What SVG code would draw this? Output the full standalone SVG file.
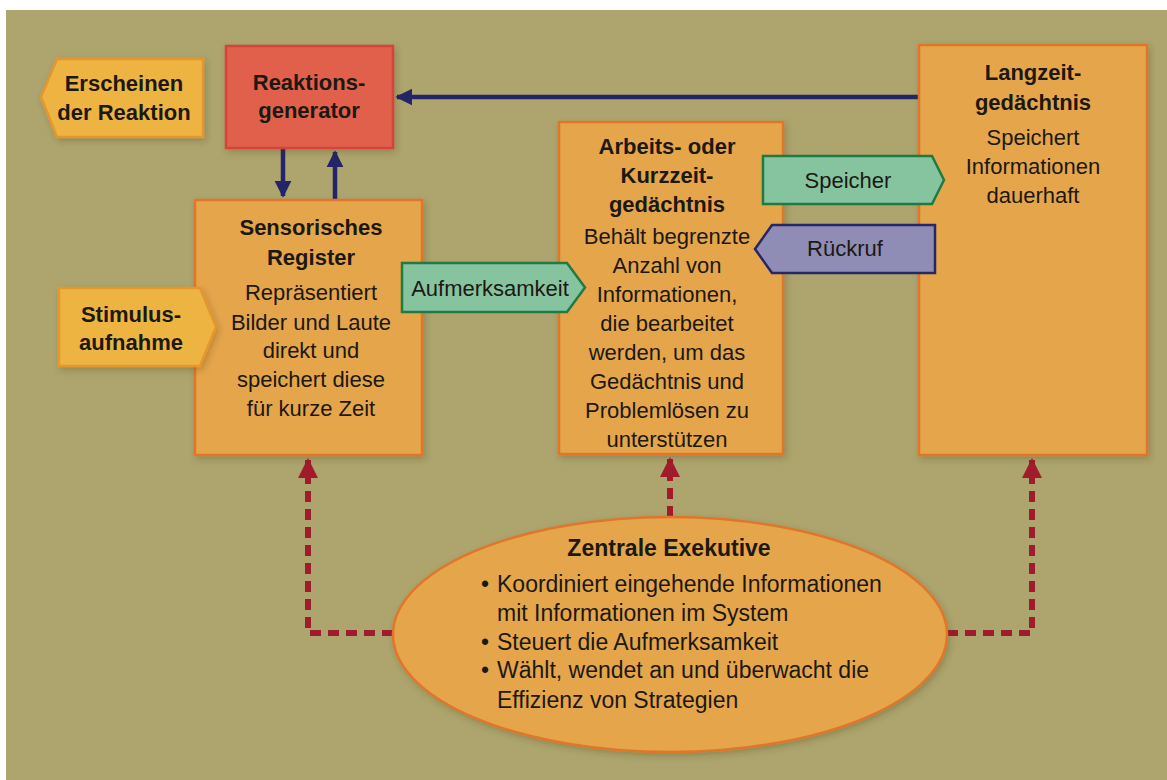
<svg xmlns="http://www.w3.org/2000/svg" width="1167" height="780" viewBox="0 0 1167 780">
<defs>
<style>
text{font-family:"Liberation Sans",Arial,Helvetica,sans-serif;fill:#1c1812;font-size:22px;}
.c{text-anchor:middle;}
.b{font-weight:bold;}
.box{fill:#e5a54b;stroke:#e0762c;stroke-width:2.5;filter:url(#sh);}
.tag{fill:#eeb443;stroke:#e5962e;stroke-width:2.5;filter:url(#sh);}
.gen{fill:#e0604c;stroke:#d8423a;stroke-width:2.5;filter:url(#sh);}
.grn{fill:#86c4a0;stroke:#1f7a44;stroke-width:2.5;}
.pur{fill:#8f8cb6;stroke:#262766;stroke-width:2.5;}
.navy{stroke:#242568;stroke-width:4.5;fill:none;}
.dash{stroke:#a11c2b;stroke-width:6;fill:none;stroke-dasharray:11 7;}
</style>
<filter id="sh" x="-10%" y="-10%" width="130%" height="130%">
<feDropShadow dx="2" dy="3" stdDeviation="3" flood-color="#3a3010" flood-opacity="0.25"/>
</filter>
<marker id="mNavy" viewBox="0 0 10 10" refX="9" refY="5" markerWidth="3.8" markerHeight="3.8" orient="auto" markerUnits="strokeWidth">
<path d="M0,0 L10,5 L0,10 z" fill="#242568"/>
</marker>
<marker id="mRed" viewBox="0 0 10 10" refX="9" refY="5" markerWidth="3.4" markerHeight="3.4" orient="auto" markerUnits="strokeWidth">
<path d="M0,0 L10,5 L0,10 z" fill="#a11c2b"/>
</marker>
</defs>
<rect x="0" y="0" width="1167" height="780" fill="#ffffff"/>
<rect x="6" y="10" width="1161" height="770" fill="#ada56d"/>

<g id="connectors">
<line class="navy" x1="919" y1="97" x2="397" y2="97" marker-end="url(#mNavy)"/>
<line class="navy" x1="283" y1="149" x2="283" y2="196" marker-end="url(#mNavy)"/>
<line class="navy" x1="335" y1="199" x2="335" y2="152" marker-end="url(#mNavy)"/>
<path class="dash" d="M393,633 H308 V460" marker-end="url(#mRed)"/>
<path class="dash" d="M670,517 V459" marker-end="url(#mRed)"/>
<path class="dash" d="M947,633 H1032 V460" marker-end="url(#mRed)"/>
</g>

<g id="reaktionsgenerator">
<rect class="gen" x="226" y="46" width="167" height="102"/>
<text class="c b" x="309" y="90">Reaktions-</text>
<text class="c b" x="309" y="118">generator</text>
</g>

<g id="erscheinen">
<polygon class="tag" points="41,97 57,59 203,59 203,137 57,137"/>
<text class="c b" x="124" y="91">Erscheinen</text>
<text class="c b" x="124" y="120">der Reaktion</text>
</g>

<g id="sensorisches-register">
<rect class="box" x="195" y="200" width="227" height="255"/>
<text class="c b" x="311" y="235">Sensorisches</text>
<text class="c b" x="311" y="265">Register</text>
<text class="c" x="311" y="300">Repräsentiert</text>
<text class="c" x="311" y="330">Bilder und Laute</text>
<text class="c" x="311" y="358">direkt und</text>
<text class="c" x="311" y="387">speichert diese</text>
<text class="c" x="311" y="416">für kurze Zeit</text>
</g>

<g id="arbeitsgedaechtnis">
<rect class="box" x="559" y="122" width="224" height="332"/>
<text class="c b" x="667" y="154">Arbeits- oder</text>
<text class="c b" x="667" y="183">Kurzzeit-</text>
<text class="c b" x="667" y="212">gedächtnis</text>
<text class="c" x="667" y="244">Behält begrenzte</text>
<text class="c" x="667" y="273">Anzahl von</text>
<text class="c" x="667" y="302">Informationen,</text>
<text class="c" x="667" y="331">die bearbeitet</text>
<text class="c" x="667" y="360">werden, um das</text>
<text class="c" x="667" y="389">Gedächtnis und</text>
<text class="c" x="667" y="418">Problemlösen zu</text>
<text class="c" x="667" y="447">unterstützen</text>
</g>

<g id="langzeitgedaechtnis">
<rect class="box" x="919" y="45" width="228" height="410"/>
<text class="c b" x="1033" y="80">Langzeit-</text>
<text class="c b" x="1033" y="110">gedächtnis</text>
<text class="c" x="1033" y="145">Speichert</text>
<text class="c" x="1033" y="174">Informationen</text>
<text class="c" x="1033" y="203">dauerhaft</text>
</g>

<g id="stimulusaufnahme">
<polygon class="tag" points="59,288 200,288 216,327 200,366 59,366"/>
<text class="c b" x="131" y="322">Stimulus-</text>
<text class="c b" x="131" y="350">aufnahme</text>
</g>

<g id="aufmerksamkeit">
<polygon class="grn" points="402,263 567,263 585,287.5 567,312 402,312"/>
<text class="c" x="490" y="296">Aufmerksamkeit</text>
</g>

<g id="speicher">
<polygon class="grn" points="763,156 932,156 944,180 932,204 763,204"/>
<text class="c" x="848" y="188">Speicher</text>
</g>

<g id="rueckruf">
<polygon class="pur" points="755,249 772,225 935,225 935,273 772,273"/>
<text class="c" x="845" y="256">Rückruf</text>
</g>

<g id="zentrale-exekutive">
<ellipse class="box" cx="670" cy="634.5" rx="277" ry="117.5"/>
<text class="c b" x="669" y="556" style="font-size:23px">Zentrale Exekutive</text>
<text x="481" y="592" style="font-size:23px">•</text>
<text x="497" y="592" style="font-size:23px">Koordiniert eingehende Informationen</text>
<text x="497" y="621" style="font-size:23px">mit Informationen im System</text>
<text x="481" y="650" style="font-size:23px">•</text>
<text x="497" y="650" style="font-size:23px">Steuert die Aufmerksamkeit</text>
<text x="481" y="678" style="font-size:23px">•</text>
<text x="497" y="678" style="font-size:23px">Wählt, wendet an und überwacht die</text>
<text x="497" y="708" style="font-size:23px">Effizienz von Strategien</text>
</g>
</svg>
